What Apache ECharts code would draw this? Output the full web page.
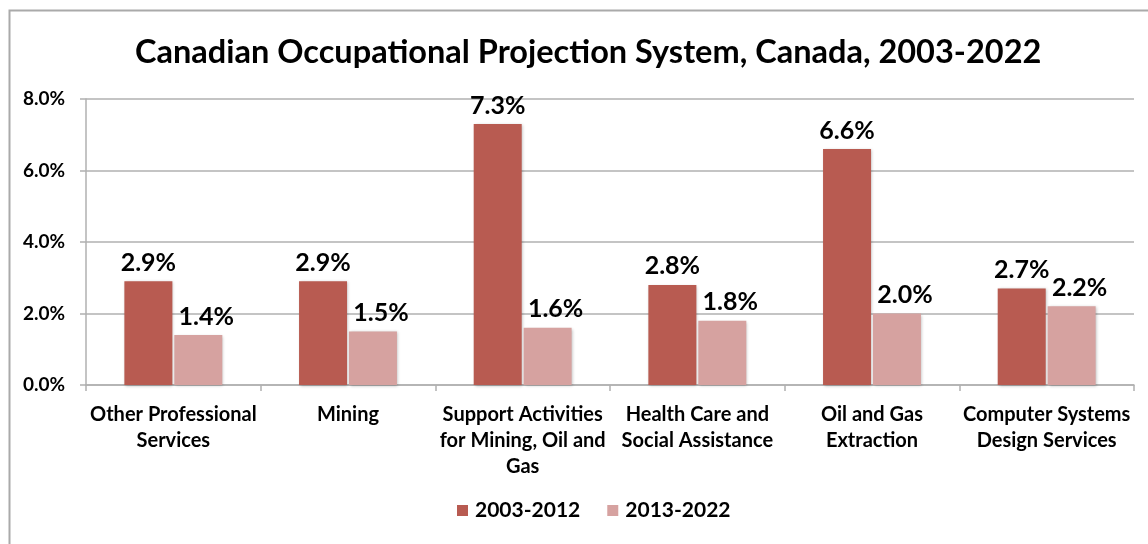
<!DOCTYPE html>
<html>
<head>
<meta charset="utf-8">
<script src="https://cdn.jsdelivr.net/npm/echarts@6/dist/echarts.min.js"></script>
<style>
html,body{margin:0;padding:0;background:#fff;}
#chart{width:1148px;height:544px;}
</style>
</head>
<body>
<div id="chart"></div>
<script>
const titleText = 'Canadian Occupational Projection System, Canada, 2003-2022';
const categories = [
  'Other Professional\nServices',
  'Mining',
  'Support Activities\nfor Mining, Oil and\nGas',
  'Health Care and\nSocial Assistance',
  'Oil and Gas\nExtraction',
  'Computer Systems\nDesign Services'
];
const seriesNames = ['2003-2012', '2013-2022'];
const values2003_2012 = [2.9, 2.9, 7.3, 2.8, 6.6, 2.7];
const values2013_2022 = [1.4, 1.5, 1.6, 1.8, 2.0, 2.2];
const yTicks = [0, 2, 4, 6, 8];

const FONT = 'Lato, "Open Sans", sans-serif';
const chart = echarts.init(document.getElementById('chart'));
const labelStyle = {
  show: true,
  position: 'top',
  distance: 6,
  formatter: p => p.value.toFixed(1) + '%',
  fontFamily: FONT,
  fontWeight: 'bold',
  fontSize: 25,
  color: '#000'
};
chart.setOption({
  animation: false,
  backgroundColor: '#fff',
  graphic: [{
    type: 'rect',
    shape: {x: 9.5, y: 10.5, width: 1300, height: 700},
    style: {fill: 'none', stroke: '#aaaaaa', lineWidth: 2},
    silent: true
  }],
  title: {
    text: titleText,
    left: 130,
    top: 31,
    textStyle: {fontFamily: FONT, fontWeight: 'bold', fontSize: 32.5, color: '#000'}
  },
  legend: {
    data: seriesNames,
    bottom: 18,
    left: 452,
    icon: 'rect',
    itemWidth: 11,
    itemHeight: 11,
    itemGap: 27,
    textStyle: {fontFamily: FONT, fontWeight: 'bold', fontSize: 21, color: '#000', padding: [0,0,0,2]}
  },
  grid: {left: 86, right: 14, top: 99, bottom: 159},
  xAxis: {
    type: 'category',
    data: categories,
    axisLine: {show: true, lineStyle: {color: '#b0b0b0', width: 1.5}},
    axisTick: {show: true, length: 6, lineStyle: {color: '#b0b0b0', width: 1.5}},
    axisLabel: {
      interval: 0,
      margin: 17,
      lineHeight: 26,
      fontFamily: FONT, fontWeight: 'bold', fontSize: 20, color: '#000'
    }
  },
  yAxis: {
    type: 'value',
    min: yTicks[0],
    max: yTicks[yTicks.length - 1],
    interval: 2,
    axisLine: {show: true, lineStyle: {color: '#b0b0b0', width: 1.5}},
    axisTick: {show: true, length: 6, lineStyle: {color: '#b0b0b0', width: 1.5}},
    splitLine: {show: true, lineStyle: {color: '#b0b0b0', width: 1.5}},
    axisLabel: {
      margin: 21,
      formatter: v => v.toFixed(1) + '%',
      fontFamily: FONT, fontWeight: 'bold', fontSize: 19, color: '#000'
    }
  },
  series: [
    {
      name: seriesNames[0],
      type: 'bar',
      data: values2003_2012,
      barWidth: 48,
      barGap: '4%',
      itemStyle: {color: '#b85b51', shadowBlur: 3, shadowColor: 'rgba(0,0,0,0.25)', shadowOffsetX: 1, shadowOffsetY: 1},
      label: labelStyle
    },
    {
      name: seriesNames[1],
      type: 'bar',
      data: values2013_2022,
      barWidth: 48,
      itemStyle: {color: '#d6a2a0', shadowBlur: 3, shadowColor: 'rgba(0,0,0,0.25)', shadowOffsetX: 1, shadowOffsetY: 1},
      label: Object.assign({}, labelStyle, {offset: [8, 0]})
    }
  ]
});
</script>
</body>
</html>
